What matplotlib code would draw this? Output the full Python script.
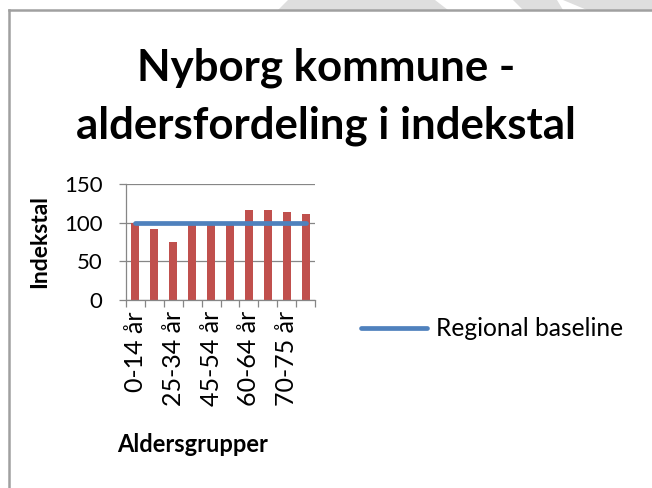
import matplotlib as mpl
mpl.rcParams["font.family"] = ["Lato", "DejaVu Sans"]
import numpy as np
import matplotlib.pyplot as plt
from matplotlib.patches import Polygon
from matplotlib.lines import Line2D

# aldersgrupper og indekstal
groups = ["0-14 år", "15-24 år", "25-34 år", "35-44 år", "45-54 år",
          "55-59 år", "60-64 år", "65-69 år", "70-75 år", "75+ år"]
index_values = [100, 92, 75, 98, 99, 99, 116, 116, 114, 111]
baseline = [100] * len(groups)

W, H = 652, 488
fig = plt.figure(figsize=(W / 100, H / 100), dpi=100)
fig.patch.set_facecolor("white")


def px(x, y):
    return (x / W, 1 - y / H)


# grå striber over rammen
for poly in ([(288, 0), (435, 0), (448, 10), (278, 10)],
             [(513, 0), (557, 0), (563, 10), (523, 10)],
             [(563, 0), (652, 0), (652, 10), (587, 10)]):
    fig.patches.append(Polygon([px(*p) for p in poly], closed=True,
                               transform=fig.transFigure, facecolor="#dedede",
                               edgecolor="none"))

# ramme om diagrammet
fig.lines.append(Line2D([9 / W, 1], [1 - 10 / H, 1 - 10 / H], transform=fig.transFigure,
                        color="#a0a0a0", lw=1.8))
fig.lines.append(Line2D([9 / W, 9 / W], [1 - 10 / H, 0], transform=fig.transFigure,
                        color="#a0a0a0", lw=1.8))

ax = fig.add_axes([126 / W, 1 - 300 / H, (315 - 126) / W, (300 - 184) / H])
x = np.arange(len(groups))
ax.bar(x, index_values, width=0.42, color="#C0504D", zorder=2)
line, = ax.plot(x, baseline, color="#4F81BD", lw=3.4, solid_capstyle="round", zorder=3,
                label="Regional baseline")

ax.set_xlim(-0.5, len(groups) - 0.5)
ax.set_ylim(0, 150)
ax.set_yticks([0, 50, 100, 150])
ax.grid(axis="y", color="#868686", lw=0.9, zorder=0)
for s in ["top", "right"]:
    ax.spines[s].set_visible(False)
for s in ["left", "bottom"]:
    ax.spines[s].set_color("#868686")
    ax.spines[s].set_linewidth(0.9)

ax.set_xticks(np.arange(-0.5, len(groups)), minor=False)
ax.set_xticklabels([])
ax.set_xticks(x[::2], minor=True)
ax.set_xticklabels(groups[::2], minor=True, rotation=90, fontsize=18)
ax.tick_params(axis="x", which="major", length=5, color="#868686", width=0.9)
ax.tick_params(axis="x", which="minor", length=0, pad=8)
ax.tick_params(axis="y", length=5, color="#868686", width=0.9, labelsize=16, pad=12)

ax.set_ylabel("Indekstal", fontsize=16.5, fontweight="bold")
ax.yaxis.set_label_coords(-0.40, 0.5)
ax.set_xlabel("Aldersgrupper", fontsize=17, fontweight="bold")
ax.xaxis.set_label_coords(0.354, -1.15)

fig.text(326 / W, 1 - 68 / H, "Nyborg kommune -", ha="center", va="center",
         fontsize=31.5, fontweight="bold")
fig.text(326 / W, 1 - 126 / H, "aldersfordeling i indekstal", ha="center", va="center",
         fontsize=31.5, fontweight="bold")

fig.legend(handles=[line], loc="center left", bbox_to_anchor=(361 / W, 1 - 329 / H),
           frameon=False, fontsize=17.7, handlelength=2.7, handletextpad=0.37,
           borderpad=0, borderaxespad=0)

fig.savefig("out.png", dpi=100)
